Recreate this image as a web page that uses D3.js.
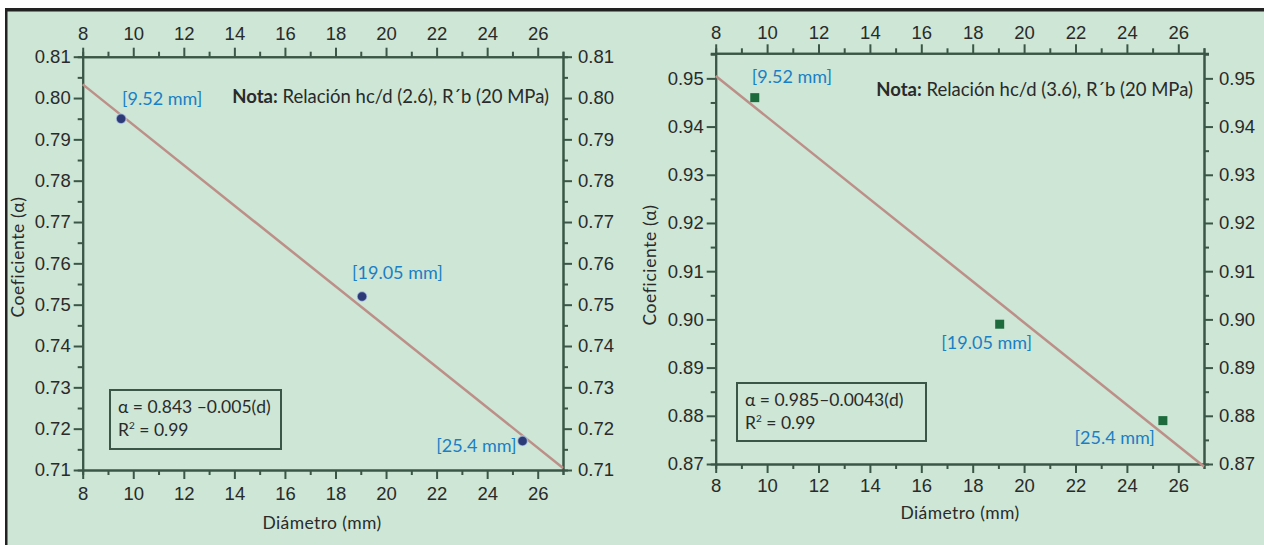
<!DOCTYPE html>
<html>
<head>
<meta charset="utf-8">
<script src="https://cdn.jsdelivr.net/npm/d3@7"></script>
<style>
  body { margin: 0; background: #fff; }
  svg { display: block; font-family: Lato, "Noto Sans", sans-serif; }
  .axis path, .axis line { stroke: #3b5646; stroke-width: 2; }
  .axis text { font-size: 18.5px; fill: #2a2a2a; }
</style>
</head>
<body>
<div class="chart"></div>
<script>
// values
const diam = [9.52, 19.05, 25.4];
const pointLabels = ["[9.52 mm]", "[19.05 mm]", "[25.4 mm]"];
const alphaLeft = [0.795, 0.752, 0.717];
const alphaRight = [0.946, 0.899, 0.879];

// ends of the fitted lines
const fitX = [8, 27];
const fitLeft = [0.8033, 0.7105];
const fitRight = [0.9505, 0.8695];

const xTicks = [8, 10, 12, 14, 16, 18, 20, 22, 24, 26];
const xMinor = [9, 11, 13, 15, 17, 19, 21, 23, 25, 27];
const yTicksLeft = [0.71, 0.72, 0.73, 0.74, 0.75, 0.76, 0.77, 0.78, 0.79, 0.80, 0.81];
const yMinorLeft = [0.715, 0.725, 0.735, 0.745, 0.755, 0.765, 0.775, 0.785, 0.795, 0.805];
const yTicksRight = [0.87, 0.88, 0.89, 0.90, 0.91, 0.92, 0.93, 0.94, 0.95];
const yMinorRight = [0.875, 0.885, 0.895, 0.905, 0.915, 0.925, 0.935, 0.945, 0.955];

const notes = ["Relación hc/d (2.6), R´b (20 MPa)", "Relación hc/d (3.6), R´b (20 MPa)"];
const equations = ["α = 0.843 –0.005(d)", "α = 0.985–0.0043(d)"];
const r2 = ["0.99", "0.99"];

const width = 1264, height = 545;

const svg = d3.select(".chart").append("svg")
  .attr("width", width).attr("height", height);

svg.append("rect").attr("x", 5).attr("y", 8)
  .attr("width", width - 5).attr("height", height - 8).attr("fill", "#cde6d5");
// black frame top and left
svg.append("rect").attr("x", 5).attr("y", 8).attr("width", width - 5).attr("height", 3.5).attr("fill", "#222");
svg.append("rect").attr("x", 5).attr("y", 8).attr("width", 2.5).attr("height", height - 8).attr("fill", "#222");

function drawPanel(p) {
  const x = d3.scaleLinear().domain([8, 27]).range([p.left, p.right]);
  const y = d3.scaleLinear().domain(p.yDomain).range([p.bottom, p.top]);
  const g = svg.append("g");

  const fmt = d3.format(".2f");
  // minor ticks first
  g.append("g").attr("class", "axis").attr("transform", `translate(0,${p.bottom})`)
    .call(d3.axisBottom(x).tickValues(xMinor).tickSize(5).tickFormat(""));
  g.append("g").attr("class", "axis").attr("transform", `translate(0,${p.top})`)
    .call(d3.axisTop(x).tickValues(xMinor).tickSize(5).tickFormat(""));
  g.append("g").attr("class", "axis").attr("transform", `translate(${p.left},0)`)
    .call(d3.axisLeft(y).tickValues(p.yMinor).tickSize(5).tickFormat(""));
  g.append("g").attr("class", "axis").attr("transform", `translate(${p.right},0)`)
    .call(d3.axisRight(y).tickValues(p.yMinor).tickSize(5).tickFormat(""));

  g.append("g").attr("class", "axis").attr("transform", `translate(0,${p.bottom})`)
    .call(d3.axisBottom(x).tickValues(xTicks).tickSize(9).tickSizeOuter(0).tickPadding(p.xPadB));
  g.append("g").attr("class", "axis").attr("transform", `translate(0,${p.top})`)
    .call(d3.axisTop(x).tickValues(xTicks).tickSize(9).tickSizeOuter(0).tickPadding(p.xPadT));
  g.append("g").attr("class", "axis").attr("transform", `translate(${p.left},0)`)
    .call(d3.axisLeft(y).tickValues(p.yTicks).tickSize(9).tickSizeOuter(0).tickPadding(3).tickFormat(fmt));
  g.append("g").attr("class", "axis").attr("transform", `translate(${p.right},0)`)
    .call(d3.axisRight(y).tickValues(p.yTicks).tickSize(9).tickSizeOuter(0).tickPadding(6).tickFormat(fmt));

  // fitted line
  g.append("line")
    .attr("x1", x(fitX[0])).attr("y1", y(p.fit[0]))
    .attr("x2", x(fitX[1])).attr("y2", y(p.fit[1]))
    .attr("stroke", "#bc8f88").attr("stroke-width", 2.5);

  // points
  if (p.square) {
    g.selectAll(".pt").data(diam).enter().append("rect")
      .attr("x", (d) => x(d) - 4.5).attr("y", (d, i) => y(p.vals[i]) - 4.5)
      .attr("width", 9).attr("height", 9).attr("fill", "#1d6b3d");
  } else {
    g.selectAll(".pt").data(diam).enter().append("circle")
      .attr("cx", (d) => x(d)).attr("cy", (d, i) => y(p.vals[i]))
      .attr("r", 5).attr("fill", "#2c3a78")
      .attr("stroke", "rgba(200,220,240,0.6)").attr("stroke-width", 1.5);
  }

  g.selectAll(".lbl").data(diam).enter().append("text")
    .attr("x", (d, i) => x(d) + p.lblOff[i][0])
    .attr("y", (d, i) => y(p.vals[i]) + p.lblOff[i][1])
    .attr("text-anchor", (d, i) => p.lblOff[i][2])
    .attr("dominant-baseline", "middle")
    .attr("font-size", 18).attr("fill", "#1a7fc6")
    .text((d, i) => pointLabels[i]);

  // note
  const nt = g.append("text").attr("x", p.noteX).attr("y", p.noteY)
    .attr("text-anchor", "end").attr("dominant-baseline", "middle")
    .attr("font-size", 18.5).attr("fill", "#2a2a2a");
  nt.append("tspan").attr("font-weight", "bold").text("Nota:");
  nt.append("tspan").text(" " + notes[p.idx]);

  // equation box
  g.append("rect").attr("x", p.box[0]).attr("y", p.box[1])
    .attr("width", p.box[2]).attr("height", p.box[3])
    .attr("fill", "none").attr("stroke", "#3b5646").attr("stroke-width", 2);
  g.append("text").attr("x", p.box[0] + 8).attr("y", p.box[1] + 19)
    .attr("dominant-baseline", "middle").attr("font-size", 17.5).attr("fill", "#2a2a2a")
    .text(equations[p.idx]);
  const rt = g.append("text").attr("x", p.box[0] + 8).attr("y", p.box[1] + 42)
    .attr("dominant-baseline", "middle").attr("font-size", 17.5).attr("fill", "#2a2a2a");
  rt.append("tspan").text("R");
  rt.append("tspan").attr("font-size", 10).attr("dy", -6).text("2");
  rt.append("tspan").attr("dy", 6).text(" = " + r2[p.idx]);

  // axis titles
  g.append("text")
    .attr("transform", `translate(${p.yTitleX},${p.yTitleY}) rotate(-90)`)
    .attr("text-anchor", "middle").attr("dominant-baseline", "middle")
    .attr("font-size", 17.5).attr("letter-spacing", 0.6).attr("fill", "#2a2a2a").text("Coeficiente (α)");
  g.append("text").attr("x", p.xTitleX).attr("y", p.xTitleY)
    .attr("text-anchor", "middle").attr("dominant-baseline", "middle")
    .attr("font-size", 17.5).attr("letter-spacing", 0.4).attr("fill", "#2a2a2a").text("Diámetro (mm)");
}

drawPanel({
  idx: 0, left: 82.7, right: 563, top: 56.7, bottom: 470,
  yDomain: [0.71, 0.81], yTicks: yTicksLeft, yMinor: yMinorLeft,
  vals: alphaLeft, fit: fitLeft, square: false,
  lblOff: [[1, -18, "start"], [-10, -22, "start"], [-6, 6, "end"]],
  noteX: 549, noteY: 98, box: [110, 390, 171, 59],
  xPadT: 8, xPadB: 8,
  yTitleX: 20, yTitleY: 257, xTitleX: 322, xTitleY: 525
});

drawPanel({
  idx: 1, left: 715.7, right: 1204, top: 53.3, bottom: 464,
  yDomain: [0.87, 0.9552], yTicks: yTicksRight, yMinor: yMinorRight,
  vals: alphaRight, fit: fitRight, square: true,
  lblOff: [[-3, -19, "start"], [-13, 20, "middle"], [-8, 19, "end"]],
  noteX: 1193, noteY: 91, box: [737, 383, 189, 58],
  xPadT: 5, xPadB: 6,
  yTitleX: 652, yTitleY: 265, xTitleX: 960, xTitleY: 515
});
</script>
</body>
</html>
